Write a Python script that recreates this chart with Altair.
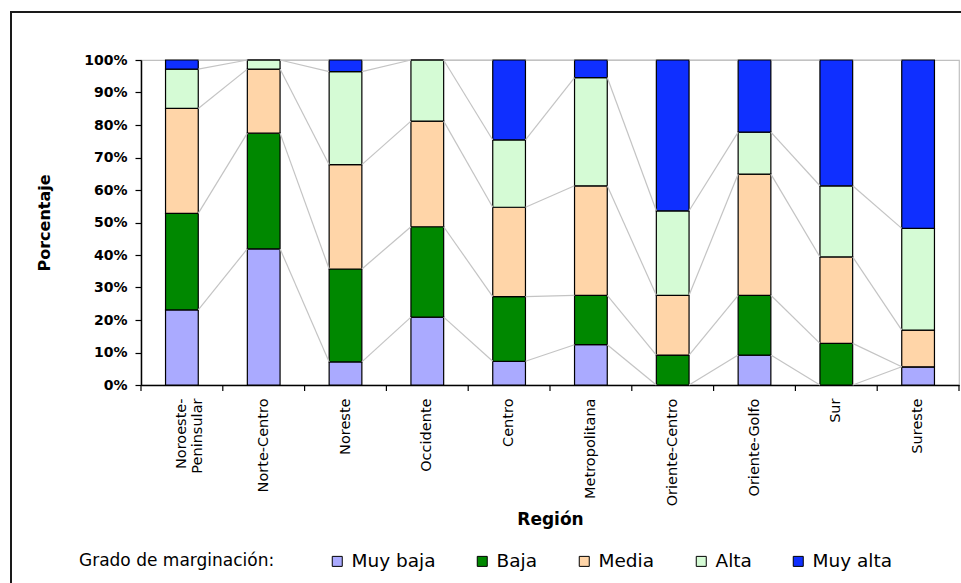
import altair as alt
import pandas as pd

# Percentage of municipalities by marginalization level in each region
regions = ["Noroeste-Peninsular", "Norte-Centro", "Noreste", "Occidente", "Centro",
           "Metropolitana", "Oriente-Centro", "Oriente-Golfo", "Sur", "Sureste"]
levels = ["Muy baja", "Baja", "Media", "Alta", "Muy alta"]
level_colors = ["#aaaaff", "#008800", "#ffd5a8", "#d5fbd5", "#0f2fff"]

muy_baja = [23.1, 41.9, 7.1, 20.9, 7.3, 12.4, 0.0, 9.2, 0.0, 5.6]
baja = [29.7, 35.6, 28.6, 27.8, 19.9, 15.2, 9.2, 18.4, 12.8, 0.0]
media = [32.3, 19.7, 32.1, 32.5, 27.5, 33.7, 18.4, 37.3, 26.6, 11.3]
alta = [12.1, 2.8, 28.6, 18.8, 20.7, 33.3, 26.0, 12.9, 21.9, 31.3]
muy_alta = [2.8, 0.0, 3.6, 0.0, 24.6, 5.4, 46.4, 22.2, 38.7, 51.8]

series = [muy_baja, baja, media, alta, muy_alta]

# Stacked segments (bottom/top of each level per region)
bar_rows = []
tops = []
for r_i, region in enumerate(regions):
    base = 0.0
    region_tops = []
    for level, vals in zip(levels, series):
        top = base + vals[r_i]
        bar_rows.append({"region": region, "grado": level, "y0": base, "y1": top})
        region_tops.append(top)
        base = top
    tops.append(region_tops)
bars_df = pd.DataFrame(bar_rows)

# Series lines joining each level's top between neighbouring bars
line_rows = []
for l_i, level in enumerate(levels):
    for r_i in range(len(regions) - 1):
        line_rows.append({
            "region": regions[r_i], "next": regions[r_i + 1], "grado": level,
            "top": tops[r_i][l_i], "next_top": tops[r_i + 1][l_i],
        })
lines_df = pd.DataFrame(line_rows)

W, H = 818, 325
step = W / len(regions)
x_scale = alt.Scale(domain=regions, paddingInner=0.6, paddingOuter=0.3)
y_scale = alt.Scale(domain=[0, 100], nice=False)

label_expr = "datum.label == 'Noroeste-Peninsular' ? ['Noroeste-', 'Peninsular'] : datum.label"

x_axis = alt.Axis(title="Región", labelAngle=-90, labelExpr=label_expr,
                  ticks=False, tickSize=0, labelPadding=13,
                  labelFont="DejaVu Sans", labelFontSize=14.5,
                  labelFontWeight="normal", labelColor="#000000",
                  domainColor="#000000", domainWidth=1.5,
                  titleFont="DejaVu Sans", titleFontSize=17,
                  titleFontWeight="bold", titleColor="#000000",
                  titleX=W / 2, titleY=134, titleBaseline="middle",
                  titleAlign="center")

y_axis = alt.Axis(title="Porcentaje", values=list(range(0, 101, 10)),
                  labelExpr="datum.value + '%'", grid=False,
                  labelOverlap=False, labelFlush=False,
                  tickSize=6, tickColor="#000000", tickWidth=1.2,
                  labelPadding=8, labelFont="DejaVu Sans",
                  labelFontSize=14, labelFontWeight="bold",
                  labelColor="#000000", domainColor="#000000",
                  domainWidth=1.5, titleFont="DejaVu Sans",
                  titleFontSize=16, titleFontWeight="bold",
                  titleColor="#000000", titleX=-97, titleY=H / 2,
                  titleBaseline="middle", titleAlign="center",
                  titleAngle=270)

bars = alt.Chart(bars_df).mark_bar(stroke="#000000", strokeWidth=1.2, opacity=1).encode(
    x=alt.X("region:N", scale=x_scale, sort=regions, axis=x_axis),
    y=alt.Y("y0:Q", scale=y_scale, axis=y_axis),
    y2="y1:Q",
    color=alt.Color("grado:N",
                    scale=alt.Scale(domain=levels, range=level_colors),
                    sort=levels,
                    legend=alt.Legend(orient="none", legendX=-62, legendY=492,
                                      direction="horizontal",
                                      title="Grado de marginación:",
                                      titleOrient="left", titlePadding=53,
                                      titleFont="DejaVu Sans", titleFontSize=17,
                                      titleFontWeight="normal", titleColor="#000000",
                                      titleBaseline="middle", titleLimit=400,
                                      labelFont="DejaVu Sans", labelFontSize=18.5,
                                      labelColor="#000000", labelOffset=5,
                                      columnPadding=37, symbolType="square",
                                      symbolSize=100, symbolStrokeColor="#000000",
                                      symbolStrokeWidth=1, symbolOpacity=1)),
)

connectors = alt.Chart(lines_df).mark_rule(color="#c4c4c4", strokeWidth=1.2).encode(
    x=alt.X("region:N", scale=x_scale, sort=regions, bandPosition=1, axis=x_axis),
    x2=alt.X2("next:N", bandPosition=0),
    y=alt.Y("top:Q", scale=y_scale, axis=y_axis),
    y2="next_top:Q",
)

# Category boundary ticks under the x axis
tick_df = pd.DataFrame({"region": regions})
ticks_left = alt.Chart(tick_df).mark_rule(color="#000000", strokeWidth=1.2,
                                          xOffset=-0.3 * step).encode(
    x=alt.X("region:N", scale=x_scale, sort=regions, bandPosition=0, axis=x_axis),
    y=alt.value(H), y2=alt.value(H + 6),
)
ticks_end = alt.Chart(pd.DataFrame({"region": regions[-1:]})).mark_rule(
    color="#000000", strokeWidth=1.2, xOffset=0.3 * step).encode(
    x=alt.X("region:N", scale=x_scale, sort=regions, bandPosition=1, axis=x_axis),
    y=alt.value(H), y2=alt.value(H + 6),
)

# Outer frame around the figure
frame = alt.Chart(alt.Data(values=[{}])).mark_rect(
    fillOpacity=0, stroke="#1a1a1a", strokeWidth=2).encode(
    x=alt.value(-130), x2=alt.value(2000), y=alt.value(-48), y2=alt.value(2000),
)

chart = alt.layer(frame, bars, connectors, ticks_left, ticks_end).properties(
    width=W, height=H,
    autosize=alt.AutoSizeParams(type="none"),
    padding={"left": 141, "top": 60, "right": 2, "bottom": 198},
    background="#ffffff",
).configure_view(stroke="#c0c0c0", strokeWidth=1.2)

chart.save("out.html", embed_options={"renderer": "svg", "actions": False})
